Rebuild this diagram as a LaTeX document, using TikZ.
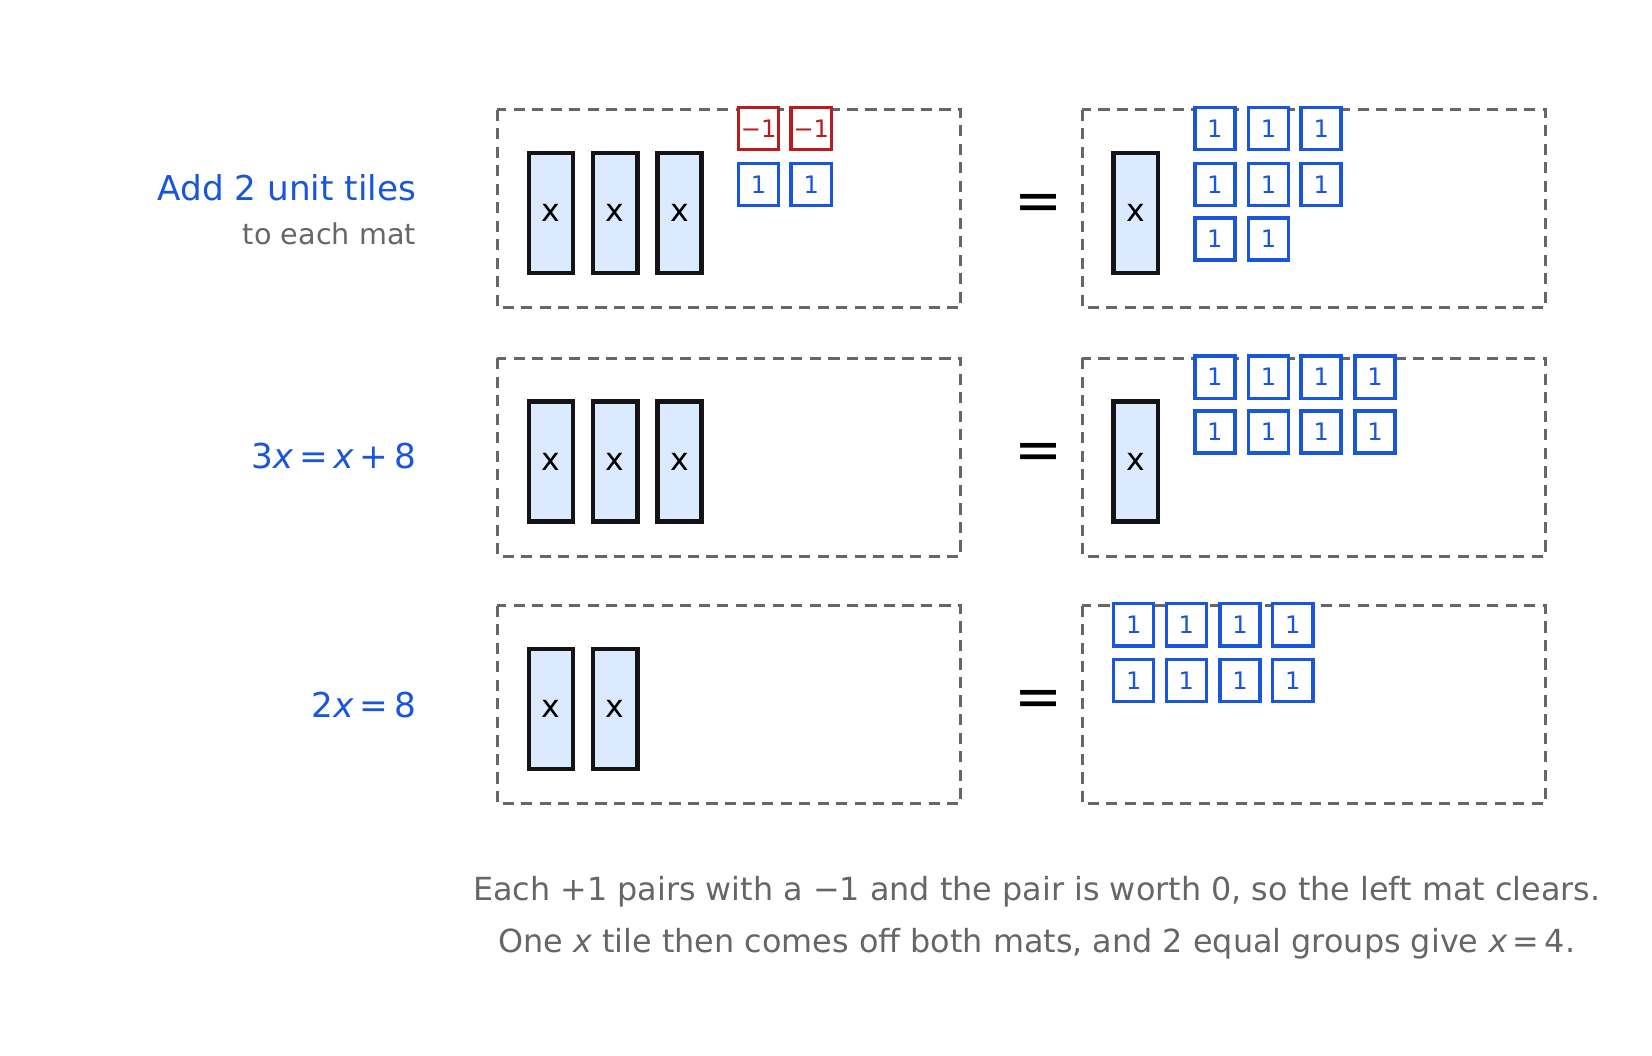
\documentclass[tikz,border=0pt]{standalone}
\usepackage{fontspec}
\setmainfont{DejaVu Sans}
\begin{document}
\definecolor{tblue}{HTML}{1A56DB}
\definecolor{tred}{HTML}{B91C1C}
\definecolor{tfill}{HTML}{DBEAFE}
\definecolor{tgray}{HTML}{666666}
\begin{tikzpicture}[x=0.02cm,y=-0.02cm,
  mat/.style={draw=tgray,line width=1.6pt,dash pattern=on 6pt off 4pt},
  xt/.style={draw=black!92,line width=2.4pt,fill=tfill,minimum width=0.84cm,minimum height=2.28cm,inner sep=0,font=\fontsize{17}{17}\selectfont},
  ut/.style={draw=tblue,line width=1.9pt,fill=white,minimum width=0.76cm,minimum height=0.8cm,inner sep=0,text=tblue,font=\fontsize{13}{13}\selectfont},
  nt/.style={ut,draw=tred,text=tred},
  eq/.style={font=\fontsize{31}{31}\selectfont},
  lab/.style={anchor=base east,text=tblue,font=\fontsize{18.5}{18.5}\selectfont}]
\useasboundingbox (0,0) rectangle (1568,1002);
% mats
\foreach \r/\y in {1/104,2/340,3/575}{
  \draw[mat] (472,\y) rectangle (912,\y+188);
  \draw[mat] (1027,\y) rectangle (1467,\y+188);
  \node[eq] (eq\r) at (986,\y+93) {=};
}
% row 1
\node[xt] (a1) at (523,202) {x};
\node[xt] (a2) at (584,202) {x};
\node[xt] (a3) at (645,202) {x};
\node[nt] (n1) at (720,122) {−1};
\node[nt] (n2) at (770,122) {−1};
\node[ut] (p1) at (720,175) {1};
\node[ut] (p2) at (770,175) {1};
\node[xt] (b1) at (1078,202) {x};
\foreach \i/\cx/\cy in {1/1153/122,2/1204/122,3/1254/122,4/1153/175,5/1204/175,6/1254/175,7/1153/227,8/1204/227}
  \node[ut] (r1u\i) at (\cx,\cy) {1};
% row 2
\node[xt] (c1) at (523,438) {x};
\node[xt] (c2) at (584,438) {x};
\node[xt] (c3) at (645,438) {x};
\node[xt] (d1) at (1078,438) {x};
\foreach \i/\cx in {1/1153,2/1204,3/1254,4/1305}{
  \node[ut] (r2a\i) at (\cx,358) {1};
  \node[ut] (r2b\i) at (\cx,410) {1};
}
% row 3
\node[xt] (e1) at (523,673) {x};
\node[xt] (e2) at (584,673) {x};
\foreach \i/\cx in {1/1076,2/1126,3/1177,4/1227}{
  \node[ut] (r3a\i) at (\cx,593) {1};
  \node[ut] (r3b\i) at (\cx,646) {1};
}
% labels
\node[lab] (l1) at (401,190) {Add 2 unit tiles};
\node[anchor=base east,text=tgray,font=\fontsize{15.5}{15.5}\selectfont] (l1b) at (401,232) {to each mat};
\node[lab] (l2) at (401,445) {3\textit{x}\,=\,\textit{x}\,+\,8};
\node[lab] (l3) at (401,681) {2\textit{x}\,=\,8};
\node[anchor=base,text=tgray,font=\fontsize{17.2}{17.2}\selectfont] (f1) at (984,855) {Each +1 pairs with a −1 and the pair is worth 0, so the left mat clears.};
\node[anchor=base,text=tgray,font=\fontsize{17.2}{17.2}\selectfont] (f2) at (984,904) {One \textit{x} tile then comes off both mats, and 2 equal groups give \textit{x}\,=\,4.};
\end{tikzpicture}
\end{document}
